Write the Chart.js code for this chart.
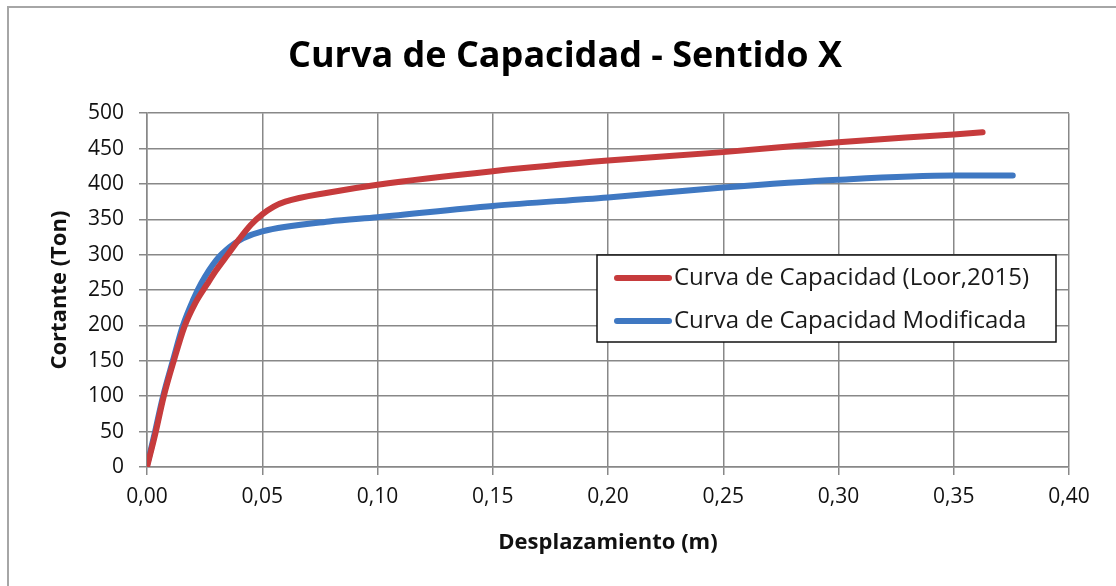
<!DOCTYPE html>
<html>
<head>
<meta charset="utf-8">
<script src="https://cdn.jsdelivr.net/npm/chart.js@4.4.1/dist/chart.umd.min.js"></script>
<style>
  html, body { margin: 0; padding: 0; background: #ffffff; }
  canvas { display: block; }
</style>
</head>
<body>
<canvas id="c" width="1116" height="586"></canvas>
<script>
// ---- data ----
const titleText = 'Curva de Capacidad - Sentido X';
const xTitle = 'Desplazamiento (m)';
const yTitle = 'Cortante (Ton)';
const seriesNames = ['Curva de Capacidad (Loor,2015)', 'Curva de Capacidad Modificada'];

const xTickLabels = ['0,00', '0,05', '0,10', '0,15', '0,20', '0,25', '0,30', '0,35', '0,40'];

const loorX = [0, 0.0036, 0.0072, 0.0117, 0.0162, 0.021, 0.026, 0.030, 0.035, 0.040, 0.045, 0.050, 0.055, 0.060, 0.079, 0.10, 0.15, 0.20, 0.25, 0.30, 0.35, 0.3625];
const loorY = [0, 47, 99, 151, 198, 232, 258, 278, 300, 322, 342, 357, 368, 375, 388, 399, 418, 433, 445, 459, 470, 473];

const modX = [0, 0.0033, 0.0069, 0.0113, 0.0156, 0.020, 0.0236, 0.030, 0.036, 0.0416, 0.05, 0.079, 0.10, 0.15, 0.20, 0.25, 0.30, 0.35, 0.3756];
const modY = [2, 47, 99, 151, 200, 236, 260, 292, 311, 323, 333, 347, 353, 369, 381, 395, 406, 412, 412];

const colors = ['#C63B3C', '#3F78C2'];

function toPoints(xs, ys) { return xs.map((x, i) => ({ x: x, y: ys[i] })); }

const FONT = "'Open Sans', 'Noto Sans', sans-serif";
const GRID = '#888888';

const frameAndLegend = {
  id: 'frameAndLegend',
  beforeDraw(chart) {
    const ctx = chart.ctx;
    ctx.save();
    ctx.fillStyle = '#ffffff';
    ctx.fillRect(0, 0, chart.width, chart.height);
    ctx.strokeStyle = '#a6a6a6';
    ctx.lineWidth = 2;
    ctx.beginPath();
    ctx.moveTo(8, chart.height);
    ctx.lineTo(8, 7);
    ctx.lineTo(chart.width, 7);
    ctx.stroke();
    ctx.restore();
  },
  afterDraw(chart) {
    const ctx = chart.ctx;
    const bx = 597, by = 255, bw = 459, bh = 87;
    ctx.save();
    ctx.fillStyle = '#ffffff';
    ctx.fillRect(bx, by, bw, bh);
    ctx.strokeStyle = '#111111';
    ctx.lineWidth = 1.5;
    ctx.strokeRect(bx, by, bw, bh);
    const rows = [278, 321];
    chart.data.datasets.forEach((ds, i) => {
      const y = rows[i];
      ctx.strokeStyle = ds.borderColor;
      ctx.lineWidth = 6;
      ctx.lineCap = 'round';
      ctx.beginPath();
      ctx.moveTo(617, y);
      ctx.lineTo(669, y);
      ctx.stroke();
      ctx.fillStyle = '#1a1a1a';
      ctx.font = '24px ' + FONT;
      ctx.textBaseline = 'middle';
      ctx.textAlign = 'left';
      ctx.fillText(ds.label, 674, y);
    });
    ctx.restore();
  }
};

new Chart(document.getElementById('c'), {
  type: 'scatter',
  data: {
    datasets: [
      {
        label: seriesNames[0],
        data: toPoints(loorX, loorY),
        showLine: true,
        borderColor: colors[0],
        backgroundColor: colors[0],
        borderWidth: 6,
        pointRadius: 0,
        cubicInterpolationMode: 'monotone',
        borderCapStyle: 'round',
        borderJoinStyle: 'round'
      },
      {
        label: seriesNames[1],
        data: toPoints(modX, modY),
        showLine: true,
        borderColor: colors[1],
        backgroundColor: colors[1],
        borderWidth: 6,
        pointRadius: 0,
        cubicInterpolationMode: 'monotone',
        borderCapStyle: 'round',
        borderJoinStyle: 'round'
      }
    ]
  },
  options: {
    responsive: false,
    animation: false,
    layout: { padding: { left: 61, right: 47, top: 0, bottom: 0 } },
    plugins: {
      legend: { display: false },
      tooltip: { enabled: false },
      title: {
        display: true,
        text: titleText,
        color: '#000000',
        font: { family: FONT, size: 36, weight: 'bold', lineHeight: 1.2 },
        padding: { top: 35, bottom: 35 }
      }
    },
    scales: {
      x: {
        type: 'linear',
        min: 0,
        max: 0.4,
        afterFit(s) { s.height = 119; },
        afterBuildTicks(s) {
          s.ticks = xTickLabels.map((t, i) => ({ value: i * 0.05 }));
        },
        ticks: {
          color: '#111111',
          font: { family: FONT, size: 21 },
          padding: 9,
          maxRotation: 0,
          autoSkip: false,
          callback: (v, i) => xTickLabels[i]
        },
        grid: { color: GRID, lineWidth: 1.5, tickLength: 8, drawTicks: true },
        border: { color: GRID, width: 1.5 },
        title: {
          display: true,
          text: xTitle,
          color: '#111111',
          font: { family: FONT, size: 22, weight: 'bold', lineHeight: 1.2 },
          padding: { top: 0, bottom: 30 }
        }
      },
      y: {
        type: 'linear',
        min: 0,
        max: 500,
        afterFit(s) { s.width = 86; },
        ticks: {
          stepSize: 50,
          color: '#111111',
          font: { family: FONT, size: 21 },
          padding: 15
        },
        grid: { color: GRID, lineWidth: 1.5, tickLength: 8, drawTicks: true },
        border: { color: GRID, width: 1.5 },
        title: {
          display: true,
          text: yTitle,
          color: '#111111',
          font: { family: FONT, size: 22, weight: 'bold', lineHeight: 1.2 },
          padding: { top: -14, bottom: 0 }
        }
      }
    }
  },
  plugins: [frameAndLegend]
});
</script>
</body>
</html>
